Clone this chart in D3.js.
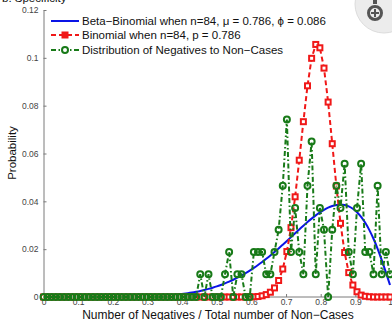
<!DOCTYPE html>
<html lang="en">
<head>
<meta charset="utf-8">
<title>specificity distribution</title>
<script src="https://d3js.org/d3.v7.min.js"></script>
<style>
  body { margin: 0; background: #fff; }
  svg { display: block; font-family: "Liberation Sans", Arial, sans-serif; }
  .tick-label { font-size: 8.5px; fill: #444; }
  .legend-text { font-size: 11.5px; fill: #111; }
  .axis-title { font-size: 11.5px; fill: #111; }
</style>
</head>
<body>
<svg width="392" height="320"></svg>
<script>
// k = number of negatives out of n = 84 non-cases
const nTrials = 84;
const kValues = d3.range(0, 85);

// beta-binomial fit, one value per k
const betaBinomial = [
  0, 0, 0, 0, 0, 0, 0, 0, 0, 0,
  0, 0, 0, 0, 0, 0, 0.00002, 0.00003, 0.00004, 0.00005,
  0.00006, 0.00008, 0.0001, 0.00013, 0.00018, 0.00023, 0.0003, 0.00036, 0.00044, 0.00054,
  0.00066, 0.0008, 0.00096, 0.00115, 0.00136, 0.0016, 0.00188, 0.0022, 0.00255, 0.00295,
  0.00339, 0.00389, 0.00443, 0.00504, 0.0057, 0.00642, 0.00721, 0.00806, 0.00899, 0.00998,
  0.01104, 0.01218, 0.01338, 0.01465, 0.01598, 0.01737, 0.01882, 0.02032, 0.02187, 0.02344,
  0.02504, 0.02664, 0.02824, 0.02981, 0.03133, 0.03278, 0.03414, 0.03538, 0.03647, 0.03738,
  0.03807, 0.0385, 0.03864, 0.03845, 0.03788, 0.0369, 0.03545, 0.0335, 0.03102, 0.02797,
  0.02435, 0.02016, 0.01544, 0.01031, 0.00501
];

// binomial, p = 0.786
const binomial = [
  0, 0, 0, 0, 0, 0, 0, 0, 0, 0,
  0, 0, 0, 0, 0, 0, 0, 0, 0, 0,
  0, 0, 0, 0, 0, 0, 0, 0, 0, 0,
  0, 0, 0, 0, 0, 0, 0, 0, 0, 0,
  0, 0, 0, 0, 0, 0, 0, 0, 0, 0,
  0.00004, 0.00009, 0.0002, 0.0005, 0.001, 0.002, 0.0038, 0.0069, 0.0117, 0.019,
  0.029, 0.0419, 0.0572, 0.0733, 0.0883, 0.0998, 0.1056, 0.1042, 0.0957, 0.0815,
  0.0641, 0.0464, 0.0308, 0.0186, 0.0102, 0.005, 0.0022, 0.0008, 0.0003, 0.0001,
  0, 0, 0, 0, 0
];

// observed distribution of negatives to non-cases
const observed = [
  0, 0, 0, 0, 0, 0, 0, 0, 0, 0,
  0, 0, 0, 0, 0, 0, 0, 0, 0, 0,
  0, 0, 0, 0, 0, 0, 0, 0, 0, 0,
  0, 0, 0, 0, 0, 0, 0, 0, 0.0095, 0,
  0.0095, 0, 0, 0, 0.0095, 0.0188, 0, 0.0095, 0.0095, 0,
  0, 0.0188, 0.0188, 0.0188, 0.0095, 0.0095, 0.0188, 0.0281, 0.0465, 0.0742,
  0.0188, 0.0372, 0.0188, 0.0095, 0.0465, 0.065, 0.0095, 0.0372, 0.0281, 0,
  0.0281, 0.0465, 0.0372, 0.0557, 0.0188, 0.0095, 0.0372, 0.0557, 0.0188, 0.0188,
  0.0095, 0.0465, 0.0095, 0.0188, 0.0095
];

const xTicks = [0, 0.1, 0.2, 0.3, 0.4, 0.5, 0.6, 0.7, 0.8, 0.9, 1];
const xTickLabels = ["0", "0.1", "0.2", "0.3", "0.4", "0.5", "0.6", "0.7", "0.8", "0.9", "1"];
const yTicks = [0, 0.02, 0.04, 0.06, 0.08, 0.1, 0.12];
const yTickLabels = ["0", "0.02", "0.04", "0.06", "0.08", "0.1", "0.12"];
const legendLabels = [
  "Beta\u2212Binomial when n=84, \u03bc = 0.786, \u03d5 = 0.086",
  "Binomial when n=84, p = 0.786",
  "Distribution of Negatives to Non\u2212Cases"
];

const blue = "#0a14e6", red = "#f01818", green = "#187a18";

const svg = d3.select("svg");
const x = d3.scaleLinear().domain([0, 1]).range([43.5, 390]);
const y = d3.scaleLinear().domain([0, 0.12]).range([297, 10]);

// cut-off title at the very top
svg.append("text")
   .attr("x", 2).attr("y", 2)
   .attr("class", "axis-title")
   .text("b. Specificity");

// axes, matlab style (ticks inside)
const gx = svg.append("g").attr("transform", "translate(0,297)");
gx.call(d3.axisBottom(x).tickValues(xTicks).tickSizeInner(-3).tickSizeOuter(0)
          .tickFormat((d, i) => xTickLabels[i]));
const gy = svg.append("g").attr("transform", "translate(43.5,0)");
gy.call(d3.axisLeft(y).tickValues(yTicks).tickSizeInner(-3).tickSizeOuter(0)
          .tickFormat((d, i) => yTickLabels[i]));
[gx, gy].forEach(g => {
  g.select(".domain").attr("stroke", "#7a7a7a");
  g.selectAll(".tick line").attr("stroke", "#7a7a7a");
  g.selectAll(".tick text").attr("class", "tick-label").attr("font-size", null).attr("font-family", null);
});
gx.selectAll(".tick text").attr("y", 1).attr("dy", "0.85em");
gy.selectAll(".tick text").attr("x", -5);
gx.select(".domain").attr("d", "M43.5,0H392");

svg.append("text")
   .attr("class", "axis-title")
   .attr("text-anchor", "middle")
   .attr("transform", "translate(16,153) rotate(-90)")
   .text("Probability");
svg.append("text")
   .attr("class", "axis-title")
   .attr("text-anchor", "middle")
   .attr("x", 218).attr("y", 318.5)
   .style("font-size", "12px")
   .text("Number of Negatives / Total number of Non\u2212Cases");

const line = vals => d3.line()
  .x(k => x(k / nTrials))
  .y(k => y(vals[k]));

const plot = svg.append("g");

// beta-binomial curve
plot.append("path")
    .attr("d", line(betaBinomial).curve(d3.curveMonotoneX)(kValues))
    .attr("fill", "none").attr("stroke", blue).attr("stroke-width", 2);

// binomial: dashed line with squares
plot.append("path")
    .attr("d", line(binomial)(kValues))
    .attr("fill", "none").attr("stroke", red).attr("stroke-width", 2)
    .attr("stroke-dasharray", "5,3");
plot.selectAll(".sq").data(kValues).enter().append("rect")
    .attr("class", "sq")
    .attr("x", k => x(k / nTrials) - 2.5).attr("y", k => y(binomial[k]) - 2.5)
    .attr("width", 5).attr("height", 5)
    .attr("fill", "#fff").attr("stroke", red).attr("stroke-width", 2);

// observed: dash-dot line with open circles
plot.append("path")
    .attr("d", line(observed)(kValues))
    .attr("fill", "none").attr("stroke", green).attr("stroke-width", 2)
    .attr("stroke-dasharray", "5,2.5,1.5,2.5");
plot.selectAll(".ci").data(kValues).enter().append("circle")
    .attr("class", "ci")
    .attr("cx", k => x(k / nTrials)).attr("cy", k => y(observed[k]))
    .attr("r", 3)
    .attr("fill", "none").attr("stroke", green).attr("stroke-width", 2);

// legend (no box)
const legend = svg.append("g");
const rowsY = [21, 35, 50];
legendLabels.forEach((label, i) => {
  const ly = rowsY[i];
  const seg = legend.append("line")
    .attr("x1", 51).attr("x2", 79).attr("y1", ly).attr("y2", ly)
    .attr("stroke-width", 2);
  if (i === 0) seg.attr("stroke", blue);
  if (i === 1) {
    seg.attr("stroke", red).attr("stroke-dasharray", "5,3");
    legend.append("rect").attr("x", 62).attr("y", ly - 3).attr("width", 6).attr("height", 6)
      .attr("fill", red).attr("stroke", red).attr("stroke-width", 1);
  }
  if (i === 2) {
    seg.attr("stroke", green).attr("stroke-dasharray", "5,2.5,1.5,2.5");
    legend.append("circle").attr("cx", 65).attr("cy", ly).attr("r", 3)
      .attr("fill", "#fff").attr("stroke", green).attr("stroke-width", 2);
  }
  legend.append("text")
    .attr("class", "legend-text")
    .attr("x", 82).attr("y", ly + 4)
    .text(label);
});

// zoom button overlay at top right
const btn = svg.append("g");
btn.append("circle").attr("cx", 384).attr("cy", 4).attr("r", 29)
   .attr("fill", "#ececec").attr("stroke", "#dcdcdc");
btn.append("circle").attr("cx", 375).attr("cy", 13).attr("r", 6.5)
   .attr("fill", "none").attr("stroke", "#555").attr("stroke-width", 3);
btn.append("rect").attr("x", 373).attr("y", 0).attr("width", 4).attr("height", 4).attr("fill", "#555");
btn.append("path").attr("d", "M371,13H379M375,9V17")
   .attr("stroke", "#555").attr("stroke-width", 2);
</script>
</body>
</html>
